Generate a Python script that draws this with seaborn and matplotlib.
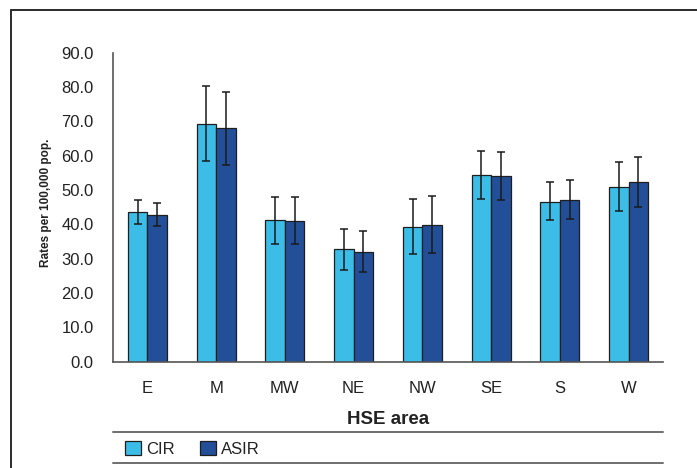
import matplotlib
matplotlib.use("Agg")
import matplotlib.pyplot as plt
from matplotlib.lines import Line2D
import seaborn as sns
import pandas as pd

# HSE areas and rates per 100,000 population with 95% confidence limits
categories = ["E", "M", "MW", "NE", "NW", "SE", "S", "W"]
cir = [43.6, 69.2, 41.2, 32.7, 39.3, 54.3, 46.6, 51.0]
cir_lo = [40.1, 58.4, 34.4, 26.8, 31.3, 47.3, 41.2, 43.8]
cir_hi = [47.2, 80.2, 48.1, 38.7, 47.5, 61.3, 52.2, 58.2]
asir = [42.8, 68.0, 41.1, 32.0, 39.9, 54.1, 47.2, 52.3]
asir_lo = [39.4, 57.3, 34.3, 26.1, 31.6, 47.1, 41.6, 45.0]
asir_hi = [46.3, 78.6, 48.1, 38.1, 48.3, 61.1, 53.0, 59.7]
series = ["CIR", "ASIR"]
yticks = [0, 10, 20, 30, 40, 50, 60, 70, 80, 90]

sns.set_style("white")
plt.rcParams["font.family"] = ["Liberation Sans", "DejaVu Sans"]
narrow = ["Liberation Sans Narrow", "Liberation Sans", "DejaVu Sans"]

df = pd.DataFrame({
    "area": categories * 2,
    "rate": cir + asir,
    "series": ["CIR"] * len(categories) + ["ASIR"] * len(categories),
})
limits = {"CIR": (cir, cir_lo, cir_hi), "ASIR": (asir, asir_lo, asir_hi)}

W, H = 697, 468
fig = plt.figure(figsize=(W / 100, H / 100), dpi=100)
ax = fig.add_axes([113 / W, 1 - 361.7 / H, 550 / W, 309 / H])

palette = {"CIR": "#3bbde8", "ASIR": "#224f98"}
sns.barplot(data=df, x="area", y="rate", hue="series", hue_order=series,
            order=categories, palette=palette, width=0.57, gap=0,
            errorbar=None, edgecolor="#1e1e1e", linewidth=0.9,
            saturation=1, ax=ax)

# confidence interval whiskers on each bar
for name, cont in zip(series, ax.containers):
    vals, lo, hi = limits[name]
    xs = [b.get_x() + b.get_width() / 2 for b in cont]
    ax.errorbar(xs, vals,
                yerr=[[v - l for v, l in zip(vals, lo)],
                      [h - v for v, h in zip(vals, hi)]],
                fmt="none", ecolor="#1a1a1a", elinewidth=1.1,
                capsize=3, capthick=1.1, zorder=5)

ax.set_xlim(-0.5, len(categories) - 0.5)
ax.set_ylim(0, 90)
ax.set_yticks(yticks)
ax.set_yticklabels([f"{t:.1f}" for t in yticks])
ax.set_xticks(range(len(categories)))
ax.set_xticklabels(categories)
ax.set_xticks([i - 0.5 for i in range(len(categories) + 1)], minor=True)
ax.tick_params(axis="x", which="major", length=0, pad=14, labelsize=12,
               labelcolor="#222222")
ax.tick_params(axis="x", which="minor", length=5, width=1, color="#555555",
               direction="out")
ax.tick_params(axis="y", length=5, width=1, color="#555555", direction="out",
               pad=9, labelsize=12, labelcolor="#222222")
for s in ["top", "right"]:
    ax.spines[s].set_visible(False)
for s in ["left", "bottom"]:
    ax.spines[s].set_color("#555555")
    ax.spines[s].set_linewidth(1.2)

ax.set_xlabel("")
ax.set_ylabel("")
fig.text(388 / W, 1 - 419 / H, "HSE area", ha="center", va="center",
         fontsize=13.5, fontweight="bold", color="#222222")
fig.text(46 / W, 1 - 203 / H, "Rates per 100,000 pop.", rotation=90,
         ha="center", va="center", fontsize=8.5, fontweight="bold",
         color="#222222", family=narrow)

# legend band between two rules
handles, labels = ax.get_legend_handles_labels()
ax.get_legend().remove()
for yy in (432, 463):
    fig.add_artist(Line2D([113 / W, 663 / W], [1 - yy / H, 1 - yy / H],
                          color="#6e6e6e", lw=1.4))
fig.legend(handles, labels, loc="center left",
           bbox_to_anchor=(117 / W, 1 - 449 / H), ncol=2, frameon=False,
           fontsize=12, handlelength=0.95, handleheight=0.95,
           handletextpad=0.3, columnspacing=1.5, borderpad=0,
           labelcolor="#222222")

# outer frame
fig.add_artist(Line2D([11 / W, 11 / W], [0, 1 - 10 / H], color="#2a2a2a", lw=1.4))
fig.add_artist(Line2D([11 / W, 1], [1 - 10 / H, 1 - 10 / H], color="#2a2a2a", lw=1.4))

fig.savefig("out.png", dpi=100)
